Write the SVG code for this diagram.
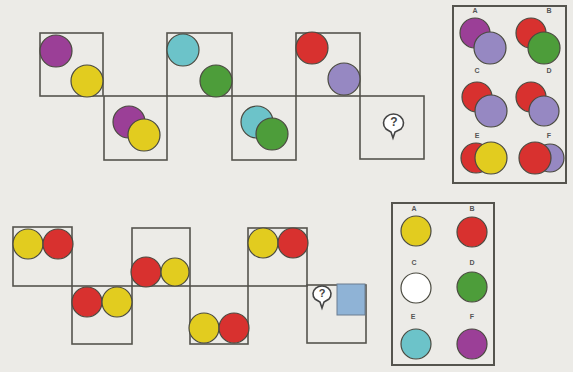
<svg xmlns="http://www.w3.org/2000/svg" width="573" height="372" viewBox="0 0 573 372">
<defs>
<style>
.cell{fill:none;stroke:#55544e;stroke-width:1.6}
.frame{fill:none;stroke:#55544e;stroke-width:2}
.c{stroke:#4a4a40;stroke-width:1.2}
.pu{fill:#9b3f97}
.ye{fill:#e2cc1f}
.cy{fill:#6cc3c9}
.gr{fill:#4d9d3a}
.re{fill:#d8312f}
.la{fill:#9688c2}
.wh{fill:#ffffff}
.lbl{font-family:"Liberation Sans",Arial,sans-serif;font-size:7px;font-weight:bold;fill:#555;text-anchor:middle}
.q{font-family:"Liberation Sans",Arial,sans-serif;font-size:12px;font-weight:bold;fill:#444;text-anchor:middle}
.bub{fill:#fff;stroke:#444;stroke-width:1.6}
</style>
</defs>
<rect width="573" height="372" fill="#ecebe7"/>

<g id="top-cell-1">
<rect class="cell" x="40" y="33" width="63" height="63"/>
<circle class="c pu" cx="56" cy="51" r="16"/>
<circle class="c ye" cx="87" cy="81" r="16"/>
</g>
<g id="top-cell-2">
<rect class="cell" x="104" y="96" width="63" height="64"/>
<circle class="c pu" cx="129" cy="122" r="16"/>
<circle class="c ye" cx="144" cy="135" r="16"/>
</g>
<g id="top-cell-3">
<rect class="cell" x="167" y="33" width="65" height="63"/>
<circle class="c cy" cx="183" cy="50" r="16"/>
<circle class="c gr" cx="216" cy="81" r="16"/>
</g>
<g id="top-cell-4">
<rect class="cell" x="232" y="96" width="64" height="64"/>
<circle class="c cy" cx="257" cy="122" r="16"/>
<circle class="c gr" cx="272" cy="134" r="16"/>
</g>
<g id="top-cell-5">
<rect class="cell" x="296" y="33" width="64" height="63"/>
<circle class="c re" cx="312" cy="48" r="16"/>
<circle class="c la" cx="344" cy="79" r="16"/>
</g>
<g id="top-cell-6">
<rect class="cell" x="360" y="96" width="64" height="63"/>
<path class="bub" d="M386,129 A10,9 0 1 1 401,129 L395,132 L393,138 L391,132 Z"/>
<text class="q" x="394" y="126">?</text>
</g>

<g id="top-answers">
<rect class="frame" x="453" y="6" width="113" height="177"/>
<text class="lbl" x="475" y="13">A</text>
<text class="lbl" x="549" y="13">B</text>
<text class="lbl" x="477" y="73">C</text>
<text class="lbl" x="549" y="73">D</text>
<text class="lbl" x="477" y="138">E</text>
<text class="lbl" x="549" y="138">F</text>
<circle class="c pu" cx="475" cy="33" r="15"/>
<circle class="c la" cx="490" cy="48" r="16"/>
<circle class="c re" cx="531" cy="33" r="15"/>
<circle class="c gr" cx="544" cy="48" r="16"/>
<circle class="c re" cx="477" cy="97" r="15"/>
<circle class="c la" cx="491" cy="111" r="16"/>
<circle class="c re" cx="531" cy="97" r="15"/>
<circle class="c la" cx="544" cy="111" r="15"/>
<circle class="c re" cx="476" cy="158" r="15"/>
<circle class="c ye" cx="491" cy="158" r="16"/>
<circle class="c la" cx="550" cy="158" r="14"/>
<circle class="c re" cx="535" cy="158" r="16"/>
</g>

<g id="bottom-cell-1">
<rect class="cell" x="13" y="227" width="59" height="59"/>
<circle class="c ye" cx="28" cy="244" r="15"/>
<circle class="c re" cx="58" cy="244" r="15"/>
</g>
<g id="bottom-cell-2">
<rect class="cell" x="72" y="286" width="60" height="58"/>
<circle class="c re" cx="87" cy="302" r="15"/>
<circle class="c ye" cx="117" cy="302" r="15"/>
</g>
<g id="bottom-cell-3">
<rect class="cell" x="132" y="228" width="58" height="58"/>
<circle class="c re" cx="146" cy="272" r="15"/>
<circle class="c ye" cx="175" cy="272" r="14"/>
</g>
<g id="bottom-cell-4">
<rect class="cell" x="190" y="286" width="58" height="58"/>
<circle class="c ye" cx="204" cy="328" r="15"/>
<circle class="c re" cx="234" cy="328" r="15"/>
</g>
<g id="bottom-cell-5">
<rect class="cell" x="248" y="228" width="59" height="58"/>
<circle class="c ye" cx="263" cy="243" r="15"/>
<circle class="c re" cx="293" cy="243" r="15"/>
</g>
<g id="bottom-cell-6">
<rect class="cell" x="307" y="285" width="59" height="58"/>
<rect x="337" y="284" width="28" height="31" fill="#8fb3d6" stroke="#6a7d90" stroke-width="1"/>
<path class="bub" d="M315,299 A9,8 0 1 1 329,299 L324,302 L322,308 L320,302 Z"/>
<text class="q" x="322" y="297" style="font-size:11px">?</text>
</g>

<g id="bottom-answers">
<rect class="frame" x="392" y="203" width="102" height="162"/>
<text class="lbl" x="414" y="211">A</text>
<text class="lbl" x="472" y="211">B</text>
<text class="lbl" x="414" y="265">C</text>
<text class="lbl" x="472" y="265">D</text>
<text class="lbl" x="413" y="319">E</text>
<text class="lbl" x="472" y="319">F</text>
<circle class="c ye" cx="416" cy="231" r="15"/>
<circle class="c re" cx="472" cy="232" r="15"/>
<circle class="c wh" cx="416" cy="288" r="15"/>
<circle class="c gr" cx="472" cy="287" r="15"/>
<circle class="c cy" cx="416" cy="344" r="15"/>
<circle class="c pu" cx="472" cy="344" r="15"/>
</g>

<g id="connectors"></g>
</svg>
